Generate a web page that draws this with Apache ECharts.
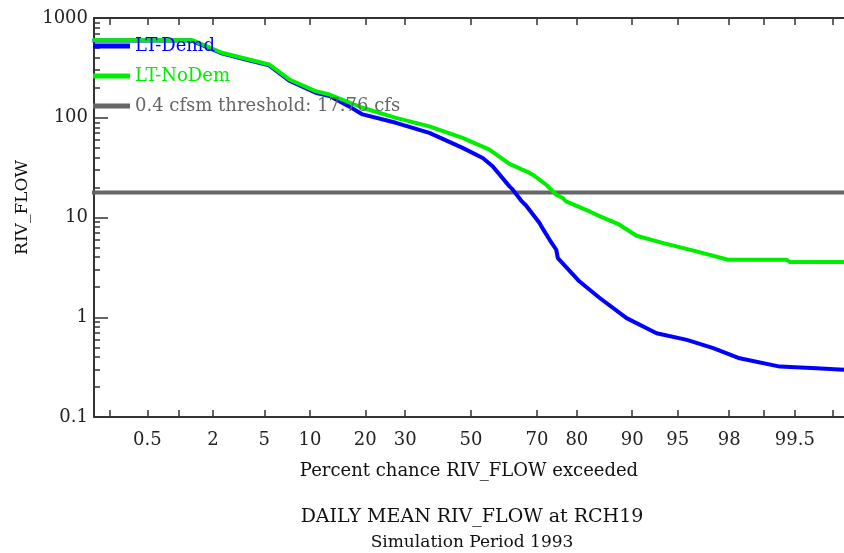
<!DOCTYPE html>
<html>
<head>
<meta charset="utf-8">
<script src="https://cdn.jsdelivr.net/npm/echarts@6/dist/echarts.min.js"></script>
<style>
html, body { margin: 0; padding: 0; background: #fff; }
#chart { width: 844px; height: 553px; }
</style>
</head>
<body>
<div id="chart"></div>
<script>
// exceedance percent / flow pairs
var demdPct  = [0.13, 1.3, 2.4, 3.65, 5.4, 7.4, 10.8, 13, 16.6, 19.4, 27.5, 37, 47.3, 53.7, 56.8, 62, 63, 65.7, 66.9, 70.7, 71.2, 73.4, 75.1, 75.5, 80.6, 84.7, 89.2, 93, 95.7, 97.3, 98.37, 99.3, 99.7, 99.87];
var demdFlow = [595, 595, 440, 384, 335, 235, 178, 165, 130, 108, 89, 70.5, 49.9, 39.5, 32.6, 20.5, 19, 14.5, 13.2, 8.8, 8.14, 5.98, 4.75, 3.92, 2.28, 1.56, 0.98, 0.69, 0.593, 0.49, 0.388, 0.32, 0.308, 0.296];

var noDemPct  = [0.13, 1.33, 2.37, 5.4, 7.4, 10.8, 13, 19.4, 27.5, 37, 47.3, 55.8, 62, 67.9, 68.8, 72.5, 75.1, 76.7, 77.5, 82.7, 84, 88.1, 90.6, 93.7, 96.35, 97.96, 99.4, 99.44, 99.87];
var noDemFlow = [600, 600, 448, 342, 242, 185, 171, 126, 99.8, 82, 62.8, 48, 34.5, 28, 26.9, 21.3, 16.9, 15.7, 14.5, 11.5, 10.7, 8.47, 6.57, 5.54, 4.57, 3.77, 3.77, 3.57, 3.57];

var threshold = 17.76;
var thresholdPct = [0.05, 99.95];

var xTickPct  = [0.2, 0.5, 1, 2, 5, 10, 20, 30, 50, 70, 80, 90, 95, 98, 99, 99.5, 99.8];
var xLabelPct = [0.5, 2, 5, 10, 20, 30, 50, 70, 80, 90, 95, 98, 99.5];
var yMajor = [0.1, 1, 10, 100, 1000];
var yMinor = [0.2, 0.3, 0.4, 0.5, 0.6, 0.7, 0.8, 0.9, 2, 3, 4, 5, 6, 7, 8, 9,
              20, 30, 40, 50, 60, 70, 80, 90, 200, 300, 400, 500, 600, 700, 800, 900];

// normal probability scale (inverse normal cdf, Acklam)
function probit(p) {
    var a = [-3.969683028665376e+01, 2.209460984245205e+02, -2.759285104469687e+02, 1.383577518672690e+02, -3.066479806614716e+01, 2.506628277459239e+00];
    var b = [-5.447609879822406e+01, 1.615858368580409e+02, -1.556989798598866e+02, 6.680131188771972e+01, -1.328068155288572e+01];
    var c = [-7.784894002430293e-03, -3.223964580411365e-01, -2.400758277161838e+00, -2.549671010229528e+00, 4.374664141464968e+00, 2.938163982698783e+00];
    var d = [7.784695709041462e-03, 3.224671290700398e-01, 2.445134137142996e+00, 3.754408661907416e+00];
    var pl = 0.02425, q, r;
    if (p < pl) {
        q = Math.sqrt(-2 * Math.log(p));
        return (((((c[0]*q+c[1])*q+c[2])*q+c[3])*q+c[4])*q+c[5]) / ((((d[0]*q+d[1])*q+d[2])*q+d[3])*q+1);
    }
    if (p > 1 - pl) {
        q = Math.sqrt(-2 * Math.log(1 - p));
        return -(((((c[0]*q+c[1])*q+c[2])*q+c[3])*q+c[4])*q+c[5]) / ((((d[0]*q+d[1])*q+d[2])*q+d[3])*q+1);
    }
    q = p - 0.5; r = q * q;
    return (((((a[0]*r+a[1])*r+a[2])*r+a[3])*r+a[4])*r+a[5])*q / (((((b[0]*r+b[1])*r+b[2])*r+b[3])*r+b[4])*r+1);
}
function zOf(pct) { return probit(pct / 100); }

function pairs(pct, vals) {
    return pct.map(function (p, i) { return [zOf(p), vals[i]]; });
}

var FONT = '"DejaVu Serif", "Liberation Serif", serif';
var axisColor = '#333';

var myChart = echarts.init(document.getElementById('chart'));
var option = {
    animation: false,
    textStyle: { fontFamily: FONT },
    grid: { left: 94, right: 0, top: 18, bottom: 136 },
    title: {
        text: 'DAILY MEAN RIV_FLOW at RCH19',
        subtext: 'Simulation Period 1993',
        left: 467,
        textAlign: 'center',
        top: 503,
        itemGap: 7,
        textStyle: { fontFamily: FONT, fontSize: 19, fontWeight: 'normal', color: '#111' },
        subtextStyle: { fontFamily: FONT, fontSize: 17, color: '#111' }
    },
    legend: {
        orient: 'vertical',
        left: 93,
        top: 37,
        padding: 0,
        itemWidth: 37,
        itemHeight: 5,
        itemGap: 12,
        icon: 'rect',
        textStyle: { fontFamily: FONT, fontSize: 18 },
        data: [
            { name: 'LT-Demd', textStyle: { color: '#0000ff' } },
            { name: 'LT-NoDem', textStyle: { color: '#00ee00' } },
            { name: '0.4 cfsm threshold: 17.76 cfs', textStyle: { color: '#666' } }
        ]
    },
    xAxis: [{
        type: 'value',
        position: 'bottom',
        min: -3.0,
        max: 2.967,
        name: 'Percent chance RIV_FLOW exceeded',
        nameLocation: 'middle',
        nameGap: 45,
        nameTextStyle: { fontFamily: FONT, fontSize: 18, color: '#111' },
        axisLine: { onZero: false, lineStyle: { color: axisColor, width: 2 } },
        axisTick: { inside: true, length: 7, customValues: xTickPct.map(zOf), lineStyle: { color: axisColor, width: 1.5 } },
        axisLabel: {
            customValues: xLabelPct.map(zOf),
            margin: 14,
            fontFamily: FONT, fontSize: 18, color: '#222',
            formatter: function (v) {
                for (var i = 0; i < xLabelPct.length; i++) {
                    if (Math.abs(zOf(xLabelPct[i]) - v) < 1e-6) return String(xLabelPct[i]);
                }
                return '';
            }
        },
        splitLine: { show: false }
    }, {
        type: 'value',
        position: 'top',
        min: -3.0,
        max: 2.967,
        axisLine: { onZero: false, lineStyle: { color: axisColor, width: 2 } },
        axisTick: { inside: true, length: 7, customValues: xTickPct.map(zOf), lineStyle: { color: axisColor, width: 1.5 } },
        axisLabel: { show: false },
        splitLine: { show: false }
    }],
    yAxis: [{
        type: 'log',
        logBase: 10,
        min: 0.1,
        max: 1000,
        position: 'left',
        name: 'RIV_FLOW',
        nameLocation: 'middle',
        nameGap: 60,
        nameTextStyle: { fontFamily: FONT, fontSize: 17, color: '#111', padding: [0, 0, 0, 20] },
        axisLine: { onZero: false, lineStyle: { color: axisColor, width: 2 } },
        axisTick: { inside: true, length: 6, customValues: yMinor, lineStyle: { color: axisColor, width: 1.5 } },
        axisLabel: {
            customValues: yMajor,
            margin: 6,
            fontFamily: FONT, fontSize: 18, color: '#222',
            formatter: function (v) { return String(+v.toPrecision(6)); }
        },
        splitLine: { show: false }
    }, {
        type: 'log',
        logBase: 10,
        min: 0.1,
        max: 1000,
        position: 'left',
        axisLine: { show: false, onZero: false },
        axisTick: { inside: true, length: 14, customValues: yMajor, lineStyle: { color: axisColor, width: 1.5 } },
        axisLabel: { show: false },
        splitLine: { show: false }
    }],
    series: [{
        name: '0.4 cfsm threshold: 17.76 cfs',
        type: 'line',
        showSymbol: false,
        color: '#666',
        lineStyle: { width: 4, color: '#666' },
        data: thresholdPct.map(function (p) { return [zOf(p), threshold]; })
    }, {
        name: 'LT-Demd',
        type: 'line',
        showSymbol: false,
        color: '#0000ff',
        lineStyle: { width: 4, color: '#0000ff' },
        data: pairs(demdPct, demdFlow)
    }, {
        name: 'LT-NoDem',
        type: 'line',
        showSymbol: false,
        color: '#00ee00',
        lineStyle: { width: 4, color: '#00ee00' },
        data: pairs(noDemPct, noDemFlow)
    }]
};
myChart.setOption(option);
</script>
</body>
</html>
